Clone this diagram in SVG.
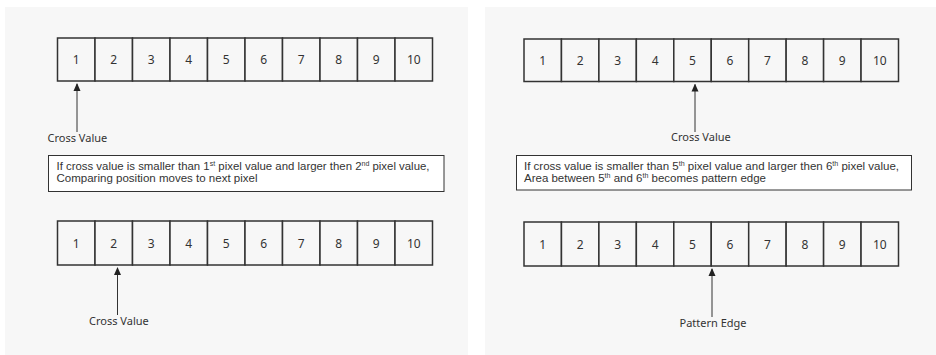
<svg xmlns="http://www.w3.org/2000/svg" width="936" height="355" viewBox="0 0 936 355">
<defs>
<style>
.panel{fill:#f7f7f7;stroke:none}
.cell{fill:#f7f7f7;stroke:#333;stroke-width:1.5}
.num{font-family:"Noto Sans","Liberation Sans",sans-serif;font-size:12px;fill:#333;text-anchor:middle}
.lbl{font-family:"Noto Sans","Liberation Sans",sans-serif;font-size:11px;fill:#333}
.txt{font-family:"Liberation Sans","Noto Sans",sans-serif;font-size:10.5px;fill:#333}
.note{fill:#fff;stroke:#333;stroke-width:1}
.sup{font-size:6.5px}
.conn{stroke:#333;stroke-width:1;fill:none;marker-end:url(#ah)}
</style>
<marker id="ah" viewBox="0 0 8 8" refX="7" refY="4" markerWidth="8" markerHeight="8" markerUnits="userSpaceOnUse" orient="auto">
<path d="M0,0.5 L8,4 L0,7.5 Z" fill="#222"/>
</marker>
</defs>
<rect width="936" height="355" fill="#fff"/>
<rect class="panel" x="5" y="7" width="463" height="348"/>
<rect class="panel" x="485" y="7" width="451" height="348"/>

<g id="left-top-row">
<rect class="cell" x="57.5" y="38" width="37.5" height="43"/><text class="num" x="76.25" y="64">1</text>
<rect class="cell" x="95" y="38" width="37.5" height="43"/><text class="num" x="113.75" y="64">2</text>
<rect class="cell" x="132.5" y="38" width="37.5" height="43"/><text class="num" x="151.25" y="64">3</text>
<rect class="cell" x="170" y="38" width="37.5" height="43"/><text class="num" x="188.75" y="64">4</text>
<rect class="cell" x="207.5" y="38" width="37.5" height="43"/><text class="num" x="226.25" y="64">5</text>
<rect class="cell" x="245" y="38" width="37.5" height="43"/><text class="num" x="263.75" y="64">6</text>
<rect class="cell" x="282.5" y="38" width="37.5" height="43"/><text class="num" x="301.25" y="64">7</text>
<rect class="cell" x="320" y="38" width="37.5" height="43"/><text class="num" x="338.75" y="64">8</text>
<rect class="cell" x="357.5" y="38" width="37.5" height="43"/><text class="num" x="376.25" y="64">9</text>
<rect class="cell" x="395" y="38" width="37.5" height="43"/><text class="num" x="413.75" y="64">10</text>
</g>

<g id="left-top-label"><text class="lbl" x="47.5" y="141.5">Cross Value</text></g>

<g id="left-note">
<rect class="note" x="48.5" y="155.5" width="395.5" height="36"/>
<text class="txt" x="56.5" y="170" textLength="373" lengthAdjust="spacingAndGlyphs">If cross value is smaller than 1<tspan class="sup" dy="-4">st</tspan><tspan dy="4"> pixel value and larger then 2</tspan><tspan class="sup" dy="-4">nd</tspan><tspan dy="4"> pixel value,</tspan></text>
<text class="txt" x="56.5" y="182" textLength="201" lengthAdjust="spacingAndGlyphs">Comparing position moves to next pixel</text>
</g>

<g id="left-bottom-row">
<rect class="cell" x="57.5" y="221" width="37.5" height="44"/><text class="num" x="76.25" y="248">1</text>
<rect class="cell" x="95" y="221" width="37.5" height="44"/><text class="num" x="113.75" y="248">2</text>
<rect class="cell" x="132.5" y="221" width="37.5" height="44"/><text class="num" x="151.25" y="248">3</text>
<rect class="cell" x="170" y="221" width="37.5" height="44"/><text class="num" x="188.75" y="248">4</text>
<rect class="cell" x="207.5" y="221" width="37.5" height="44"/><text class="num" x="226.25" y="248">5</text>
<rect class="cell" x="245" y="221" width="37.5" height="44"/><text class="num" x="263.75" y="248">6</text>
<rect class="cell" x="282.5" y="221" width="37.5" height="44"/><text class="num" x="301.25" y="248">7</text>
<rect class="cell" x="320" y="221" width="37.5" height="44"/><text class="num" x="338.75" y="248">8</text>
<rect class="cell" x="357.5" y="221" width="37.5" height="44"/><text class="num" x="376.25" y="248">9</text>
<rect class="cell" x="395" y="221" width="37.5" height="44"/><text class="num" x="413.75" y="248">10</text>
</g>

<g id="left-bottom-label"><text class="lbl" x="89" y="325">Cross Value</text></g>

<g id="right-top-row">
<rect class="cell" x="524" y="39" width="37.45" height="42.5"/><text class="num" x="542.7" y="64.5">1</text>
<rect class="cell" x="561.45" y="39" width="37.45" height="42.5"/><text class="num" x="580.2" y="64.5">2</text>
<rect class="cell" x="598.9" y="39" width="37.45" height="42.5"/><text class="num" x="617.6" y="64.5">3</text>
<rect class="cell" x="636.35" y="39" width="37.45" height="42.5"/><text class="num" x="655.1" y="64.5">4</text>
<rect class="cell" x="673.8" y="39" width="37.45" height="42.5"/><text class="num" x="692.5" y="64.5">5</text>
<rect class="cell" x="711.25" y="39" width="37.45" height="42.5"/><text class="num" x="730" y="64.5">6</text>
<rect class="cell" x="748.7" y="39" width="37.45" height="42.5"/><text class="num" x="767.4" y="64.5">7</text>
<rect class="cell" x="786.15" y="39" width="37.45" height="42.5"/><text class="num" x="804.9" y="64.5">8</text>
<rect class="cell" x="823.6" y="39" width="37.45" height="42.5"/><text class="num" x="842.3" y="64.5">9</text>
<rect class="cell" x="861.05" y="39" width="37.45" height="42.5"/><text class="num" x="879.8" y="64.5">10</text>
</g>

<g id="right-top-label"><text class="lbl" x="671" y="140.5">Cross Value</text></g>

<g id="right-note">
<rect class="note" x="516.5" y="155.5" width="395" height="34.5"/>
<text class="txt" x="524" y="169.5" textLength="375" lengthAdjust="spacingAndGlyphs">If cross value is smaller than 5<tspan class="sup" dy="-4">th</tspan><tspan dy="4"> pixel value and larger then 6</tspan><tspan class="sup" dy="-4">th</tspan><tspan dy="4"> pixel value,</tspan></text>
<text class="txt" x="524" y="181.5" textLength="242" lengthAdjust="spacingAndGlyphs">Area between 5<tspan class="sup" dy="-4">th</tspan><tspan dy="4"> and 6</tspan><tspan class="sup" dy="-4">th</tspan><tspan dy="4"> becomes pattern edge</tspan></text>
</g>

<g id="right-bottom-row">
<rect class="cell" x="524" y="222" width="37.45" height="44"/><text class="num" x="542.7" y="249">1</text>
<rect class="cell" x="561.45" y="222" width="37.45" height="44"/><text class="num" x="580.2" y="249">2</text>
<rect class="cell" x="598.9" y="222" width="37.45" height="44"/><text class="num" x="617.6" y="249">3</text>
<rect class="cell" x="636.35" y="222" width="37.45" height="44"/><text class="num" x="655.1" y="249">4</text>
<rect class="cell" x="673.8" y="222" width="37.45" height="44"/><text class="num" x="692.5" y="249">5</text>
<rect class="cell" x="711.25" y="222" width="37.45" height="44"/><text class="num" x="730" y="249">6</text>
<rect class="cell" x="748.7" y="222" width="37.45" height="44"/><text class="num" x="767.4" y="249">7</text>
<rect class="cell" x="786.15" y="222" width="37.45" height="44"/><text class="num" x="804.9" y="249">8</text>
<rect class="cell" x="823.6" y="222" width="37.45" height="44"/><text class="num" x="842.3" y="249">9</text>
<rect class="cell" x="861.05" y="222" width="37.45" height="44"/><text class="num" x="879.8" y="249">10</text>
</g>

<g id="right-bottom-label"><text class="lbl" x="679.5" y="326.5">Pattern Edge</text></g>

<g id="connectors">
<line class="conn" x1="77" y1="132" x2="77" y2="84"/>
<line class="conn" x1="117.5" y1="315" x2="117.5" y2="268"/>
<line class="conn" x1="695" y1="132" x2="695" y2="84.5"/>
<line class="conn" x1="712" y1="317" x2="712" y2="269"/>
</g>
</svg>
